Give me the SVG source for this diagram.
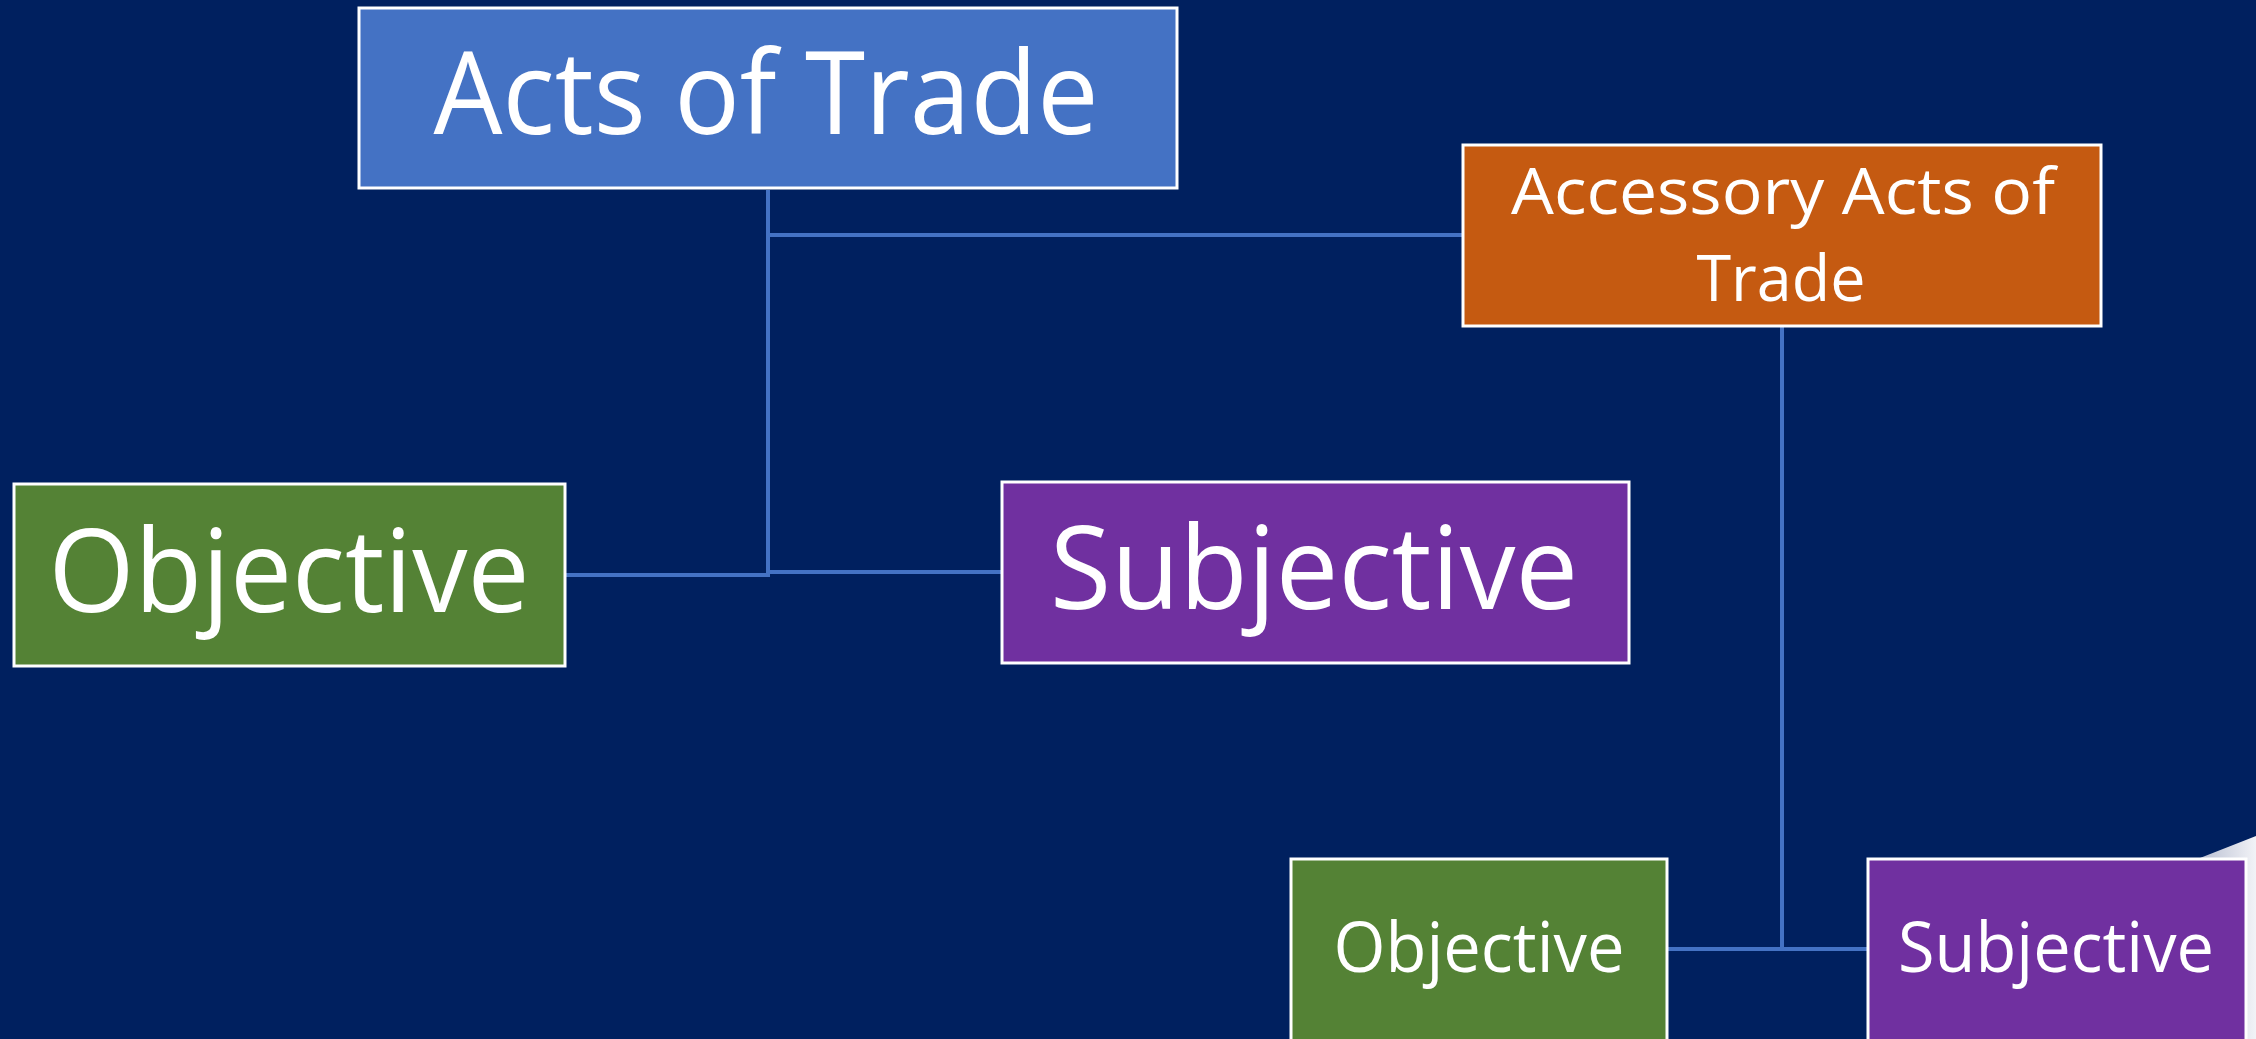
<svg xmlns="http://www.w3.org/2000/svg" width="2256" height="1039" viewBox="0 0 2256 1039">
<defs>
<style>
.box{stroke:#FFFFFF;stroke-width:3}
.t{font-family:"Open Sans","Liberation Sans",sans-serif;fill:#FFFFFF;text-anchor:middle}
.big{font-size:116px}
.sm{font-size:69px}
.acc{font-size:64px}
.c{stroke:#4472C4;stroke-width:4;fill:none}
</style>
<linearGradient id="curl" x1="0" y1="0" x2="1" y2="0">
<stop offset="0" stop-color="#b9bfd2"/>
<stop offset="1" stop-color="#f2f3f7"/>
</linearGradient>
</defs>
<rect width="2256" height="1039" fill="#00205F"/>
<polygon points="2200,858 2256,836 2256,1039 2246,1039 2246,858" fill="url(#curl)"/>
<g id="connectors">
<line class="c" x1="768" y1="190" x2="768" y2="577"/>
<line class="c" x1="768" y1="235" x2="1462" y2="235"/>
<line class="c" x1="566" y1="575" x2="770" y2="575"/>
<line class="c" x1="768" y1="572" x2="1001" y2="572"/>
<line class="c" x1="1782" y1="327" x2="1782" y2="951"/>
<line class="c" x1="1668" y1="949" x2="1867" y2="949"/>
</g>
<g id="acts-of-trade">
<rect class="box" x="359" y="8" width="818" height="180" fill="#4472C4"/>
<text class="t big" x="766" y="134" textLength="665" lengthAdjust="spacingAndGlyphs">Acts of Trade</text>
</g>
<g id="accessory-acts">
<rect class="box" x="1463" y="145" width="638" height="181" fill="#C55A11"/>
<text class="t acc" x="1783" y="214" textLength="544" lengthAdjust="spacingAndGlyphs">Accessory Acts of</text>
<text class="t acc" x="1781" y="301" textLength="169" lengthAdjust="spacingAndGlyphs">Trade</text>
</g>
<g id="objective">
<rect class="box" x="14" y="484" width="551" height="182" fill="#548235"/>
<text class="t big" x="289" y="612" textLength="481" lengthAdjust="spacingAndGlyphs">Objective</text>
</g>
<g id="subjective">
<rect class="box" x="1002" y="482" width="627" height="181" fill="#7030A0"/>
<text class="t big" x="1314" y="609" textLength="528" lengthAdjust="spacingAndGlyphs">Subjective</text>
</g>
<g id="objective-small">
<rect class="box" x="1291" y="859" width="376" height="190" fill="#548235"/>
<text class="t sm" x="1479" y="972" textLength="291" lengthAdjust="spacingAndGlyphs">Objective</text>
</g>
<g id="subjective-small">
<rect class="box" x="1868" y="859" width="378" height="190" fill="#7030A0"/>
<text class="t sm" x="2056" y="972" textLength="316" lengthAdjust="spacingAndGlyphs">Subjective</text>
</g>
</svg>
